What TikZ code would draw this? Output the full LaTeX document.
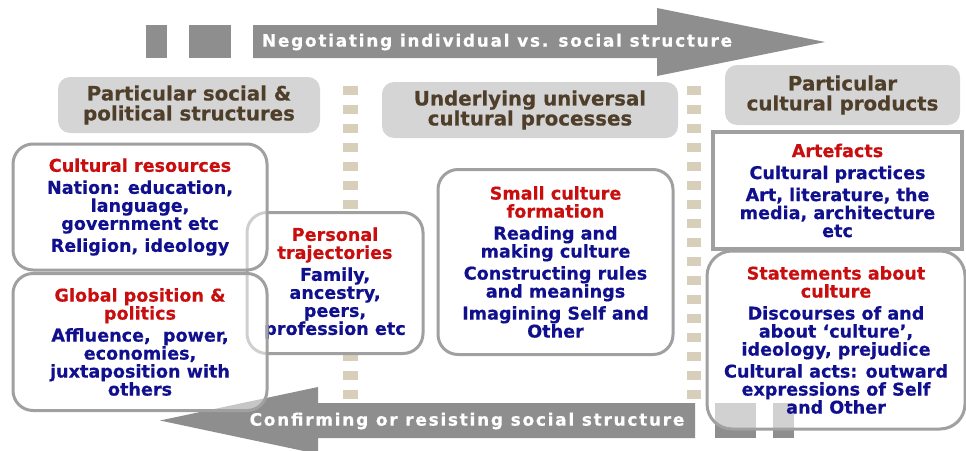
\documentclass[tikz,border=0pt]{standalone}
\usepackage{fontspec}
\setmainfont{DejaVu Sans}[BoldFeatures={FakeBold=0.4}]
\definecolor{arrowgray}{HTML}{8E8E8E}
\definecolor{headgray}{HTML}{D5D5D5}
\definecolor{headbrown}{HTML}{4F3F2A}
\definecolor{cardline}{HTML}{A0A0A0}
\definecolor{cardred}{HTML}{C80E0E}
\definecolor{cardblue}{HTML}{10108F}
\definecolor{dotbeige}{HTML}{D8CFBB}
\newcommand{\rd}{\color{cardred}}
\begin{document}
\begin{tikzpicture}[x=1pt,y=-1pt,
  arrowbody/.style={fill=arrowgray, draw=none},
  arrowtext/.style={text=white, font=\fontsize{17}{18}\selectfont\bfseries\addfontfeature{LetterSpace=10}, inner sep=0},
  headbox/.style={fill=headgray, draw=none, rounded corners=12pt, text=headbrown,
    font=\fontsize{19.8}{20}\selectfont\bfseries, align=center, inner sep=0},
  card/.style={draw=cardline, line width=3pt, fill=white, rounded corners=20pt,
    align=center, inner sep=0, text=cardblue, text opacity=1,
    font=\fontsize{17.6}{18}\selectfont\bfseries},
  squarecard/.style={card, rounded corners=0pt, line width=4pt},
  dotmark/.style={fill=dotbeige, draw=none}
]
\useasboundingbox (0,0) rectangle (966,450);

% upper arrow: two tail blocks and the arrow itself
\fill[arrowbody] (146,25) rectangle (167,58);
\fill[arrowbody] (189,25) rectangle (231,58);
\fill[arrowbody] (253,25) -- (657,25) -- (657,8) -- (825,42) -- (657,76) -- (657,58) -- (253,58) -- cycle;
\node[arrowtext] (negotiate) at (497,42) {Negotiating individual vs. social structure};

% lower arrow, pointing back
\fill[arrowbody] (715,403) rectangle (756,438);
\fill[arrowbody] (773,403) rectangle (794,438);
\fill[arrowbody] (695,403) -- (318,403) -- (318,387) -- (160,420.5) -- (318,454) -- (318,438) -- (695,438) -- cycle;
\node[arrowtext] (confirm) at (467,421) {Confirming or resisting social structure};

% dotted column dividers
\foreach \k in {0,...,16} {
  \fill[dotmark] (343,86+19*\k) rectangle (358,95+19*\k);
  \fill[dotmark] (687,86+19*\k) rectangle (701,95+19*\k);
}

% column headings
\node[headbox, minimum width=262pt, minimum height=56pt] (hsocial) at (189,105)
  {Particular social \&\\political structures};
\node[headbox, minimum width=296pt, minimum height=56pt] (huniversal) at (530,110)
  {Underlying universal\\cultural processes};
\node[headbox, minimum width=235pt, minimum height=60pt] (hproducts) at (842.5,95)
  {Particular\\cultural products};

% content cards
\node[card, minimum width=176pt, minimum height=141pt] (personal) at (335,283)
  {\rd Personal\\\rd trajectories\\[4pt]
   Family,\\ancestry,\\peers,\\profession etc};
\node[card, fill opacity=0.5, minimum width=254pt, minimum height=126pt] (resources) at (140,207)
  {\rd Cultural resources\\[4pt]
   Nation: education,\\language,\\government etc\\[4pt]
   Religion, ideology};
\node[card, fill opacity=0.5, minimum width=254pt, minimum height=137pt] (global) at (140,342)
  {\rd Global position \&\\\rd politics\\[4pt]
   Affluence,\ \ power,\\economies,\\juxtaposition with\\others};
\node[card, minimum width=235pt, minimum height=185pt] (smallculture) at (555.5,262)
  {\rd Small culture\\\rd formation\\[4pt]
   Reading and\\making culture\\[4pt]
   Constructing rules\\and meanings\\[4pt]
   Imagining Self and\\Other};
\node[squarecard, minimum width=249pt, minimum height=117pt] (artefacts) at (837.5,190.5)
  {\rd Artefacts\\[4pt]
   Cultural practices\\[4pt]
   Art, literature, the\\media, architecture\\etc};
\node[card, fill opacity=0.6, rounded corners=25pt, minimum width=258pt, minimum height=178pt] (statements) at (836,340)
  {\rd Statements about\\\rd culture\\[4pt]
   Discourses of and\\about ‘culture’,\\ideology, prejudice\\[4pt]
   Cultural acts: outward\\expressions of Self\\and Other};
\end{tikzpicture}
\end{document}
